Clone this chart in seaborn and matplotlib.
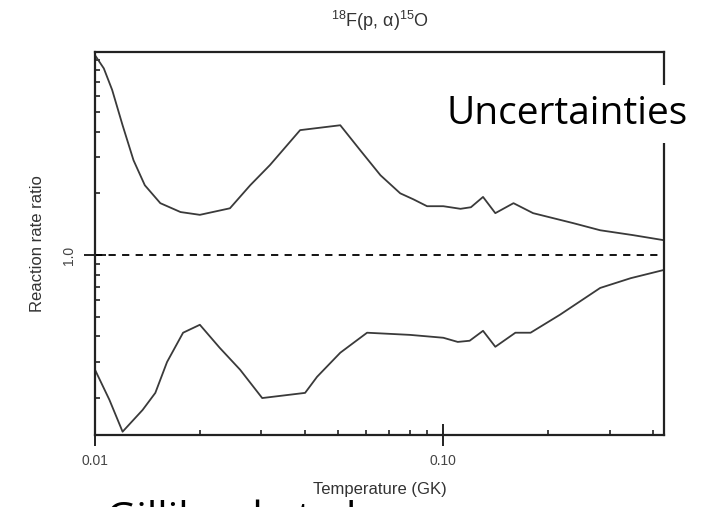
import numpy as np
import pandas as pd
import matplotlib
matplotlib.use("Agg")
import matplotlib.pyplot as plt
from matplotlib.ticker import FixedLocator, LogLocator, NullFormatter, FixedFormatter
import seaborn as sns

# ---- data ----
upper_T = [0.0100, 0.0106, 0.0112, 0.0120, 0.0129, 0.0139, 0.0154, 0.0176, 0.0200,
           0.0244, 0.0279, 0.0318, 0.0388, 0.0506, 0.0577, 0.0660, 0.0752, 0.0820,
           0.0898, 0.1000, 0.1120, 0.1200, 0.1300, 0.1410, 0.1590, 0.1810, 0.2360,
           0.2820, 0.3500, 0.4300]
upper_R = [9.45, 8.15, 6.40, 4.30, 2.90, 2.19, 1.79, 1.62, 1.57,
           1.69, 2.19, 2.75, 4.07, 4.30, 3.25, 2.45, 2.00, 1.87,
           1.73, 1.73, 1.68, 1.71, 1.92, 1.60, 1.79, 1.60, 1.43,
           1.32, 1.25, 1.18]

lower_T = [0.0100, 0.0110, 0.0120, 0.0137, 0.0149, 0.0161, 0.0179, 0.0200, 0.0228,
           0.0261, 0.0302, 0.0401, 0.0434, 0.0506, 0.0552, 0.0604, 0.0802, 0.1000,
           0.1100, 0.1190, 0.1300, 0.1410, 0.1610, 0.1780, 0.2160, 0.2820, 0.3450,
           0.4300]
lower_R = [0.275, 0.196, 0.137, 0.175, 0.212, 0.300, 0.417, 0.456, 0.352,
           0.275, 0.200, 0.212, 0.254, 0.333, 0.372, 0.417, 0.407, 0.394,
           0.376, 0.381, 0.426, 0.356, 0.417, 0.417, 0.510, 0.690, 0.770,
           0.845]

x_ticks = [0.01, 0.10]
x_tick_labels = ["0.01", "0.10"]
y_ticks = [1.0]
y_tick_labels = ["1.0"]

title = r"$^{18}$F(p, $\alpha$)$^{15}$O"
xlabel = "Temperature (GK)"
ylabel = "Reaction rate ratio"

# ---- figure ----
sns.set_style("white")
plt.rcParams["font.family"] = ["Liberation Sans", "DejaVu Sans"]
plt.rcParams["mathtext.fontset"] = "custom"
plt.rcParams["mathtext.rm"] = "Liberation Sans"
plt.rcParams["mathtext.it"] = "Liberation Sans"

fig = plt.figure(figsize=(7.2, 5.07), dpi=100)
ax = fig.add_axes([95/720, 1-435/507, (664-95)/720, (435-52)/507])

df_u = pd.DataFrame({"T": upper_T, "R": upper_R})
df_l = pd.DataFrame({"T": lower_T, "R": lower_R})
sns.lineplot(data=df_u, x="T", y="R", ax=ax, color="#3a3a3a", lw=1.3, sort=False)
sns.lineplot(data=df_l, x="T", y="R", ax=ax, color="#3a3a3a", lw=1.3, sort=False)
ax.axhline(1.0, color="black", lw=1.3, ls=(0, (4, 3.5)))

ax.set_xscale("log")
ax.set_yscale("log")
ax.set_xlim(0.01, 0.43)
ax.set_ylim(0.132, 9.8)

for s in ax.spines.values():
    s.set_color("#222222")
    s.set_linewidth(1.6)

ax.xaxis.set_major_locator(FixedLocator(x_ticks))
ax.xaxis.set_major_formatter(FixedFormatter(x_tick_labels))
ax.xaxis.set_minor_locator(LogLocator(base=10, subs=np.arange(2, 10)))
ax.xaxis.set_minor_formatter(NullFormatter())
ax.yaxis.set_major_locator(FixedLocator(y_ticks))
ax.yaxis.set_major_formatter(FixedFormatter(y_tick_labels))
ax.yaxis.set_minor_locator(LogLocator(base=10, subs=np.arange(2, 10)))
ax.yaxis.set_minor_formatter(NullFormatter())

ax.tick_params(axis="both", which="both", bottom=True, left=True, top=False, right=False)
ax.tick_params(axis="both", which="major", direction="inout", length=16, width=1.4,
               color="#222222", labelsize=10, labelcolor="#444444", pad=6)
ax.tick_params(axis="both", which="minor", direction="in", length=3.5, width=1.2,
               color="#222222")
for lab in ax.get_yticklabels():
    lab.set_rotation(90)
    lab.set_va("center")

ax.set_xlabel(xlabel, fontsize=12, color="#333333", labelpad=10)
ax.set_ylabel(ylabel, fontsize=12, color="#333333", labelpad=12)
ax.set_title(title, fontsize=13, color="#333333", pad=18)

# overlay annotation texts from the slide
fig.text(447/720, 1-124/507, "Uncertainties", fontsize=28, family="Open Sans",
         color="black", ha="left", va="baseline",
         bbox=dict(boxstyle="square,pad=0.25", fc="white", ec="none"))
fig.text(106/720, 1-532/507, "Gilliland et al.", fontsize=30, family="Open Sans",
         color="black", ha="left", va="baseline", zorder=0)

fig.savefig("out.png", dpi=100)
